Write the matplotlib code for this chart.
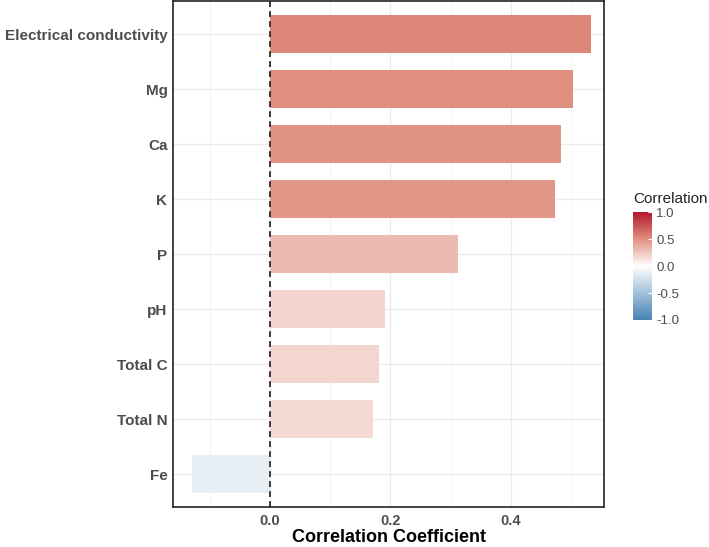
import numpy as np
import matplotlib
matplotlib.use("Agg")
from matplotlib import pyplot as plt
from matplotlib.colors import LinearSegmentedColormap, Normalize
from matplotlib.colorbar import ColorbarBase

variables = ["Electrical conductivity", "Mg", "Ca", "K", "P", "pH", "Total C", "Total N", "Fe"]
correlations = [0.533, 0.503, 0.483, 0.473, 0.312, 0.191, 0.181, 0.171, -0.130]
x_ticks = [0.0, 0.2, 0.4]
cbar_ticks = [1.0, 0.5, 0.0, -0.5, -1.0]

plt.rcParams["font.family"] = ["Liberation Sans", "DejaVu Sans"]
plt.rcParams["axes.unicode_minus"] = False

# gradient2-like scale: steelblue - white - firebrick (lab-ish midpoint)
cmap = LinearSegmentedColormap.from_list(
    "corr", [(0.0, "#4682B4"), (0.5, "#FFFFFF"), (0.75, "#E0907F"), (1.0, "#B2182B")]
)
norm = Normalize(vmin=-1, vmax=1)

fig = plt.figure(figsize=(7.09, 5.47), dpi=100)
ax = fig.add_axes([0.244, 0.073, 0.608, 0.925])

_y = np.arange(len(variables))
ax.barh(_y, correlations, height=0.7, color=cmap(norm(np.array(correlations))), zorder=2)
ax.axvline(0, color="#1A1A1A", linestyle=(0, (3.5, 2.5)), linewidth=1.2, zorder=3)

ax.set_ylim(len(variables) - 0.4, -0.6)
ax.set_xlim(-0.161, 0.555)
ax.set_yticks(_y)
ax.set_yticklabels(variables, fontsize=11, fontweight="bold", color="#4D4D4D")
ax.set_xticks(x_ticks)
ax.set_xticklabels(["{:.1f}".format(v) for v in x_ticks], fontsize=10.5,
                   fontweight="bold", color="#4D4D4D")
ax.set_xticks([-0.1, 0.1, 0.3, 0.5], minor=True)
ax.tick_params(axis="both", which="both", length=0, pad=4)
ax.tick_params(axis="x", which="major", pad=5)
ax.grid(which="major", color="#EBEBEB", linewidth=0.9, zorder=0)
ax.grid(which="minor", axis="x", color="#F2F2F2", linewidth=0.6, zorder=0)
ax.set_axisbelow(True)
for _s in ax.spines.values():
    _s.set_color("#222222")
    _s.set_linewidth(1.2)
ax.set_xlabel("Correlation Coefficient", fontsize=13, fontweight="bold", labelpad=1)

cax = fig.add_axes([0.893, 0.415, 0.027, 0.197])
cb = ColorbarBase(cax, cmap=cmap, norm=norm, ticks=cbar_ticks)
cb.outline.set_visible(False)
cax.tick_params(length=3, width=0.8, colors="white", direction="in", labelcolor="#4D4D4D",
                labelsize=9.5, pad=3)
cax.set_title("Correlation", fontsize=11, loc="left", pad=7, color="#222222")

fig.savefig("out.png", dpi=100)
